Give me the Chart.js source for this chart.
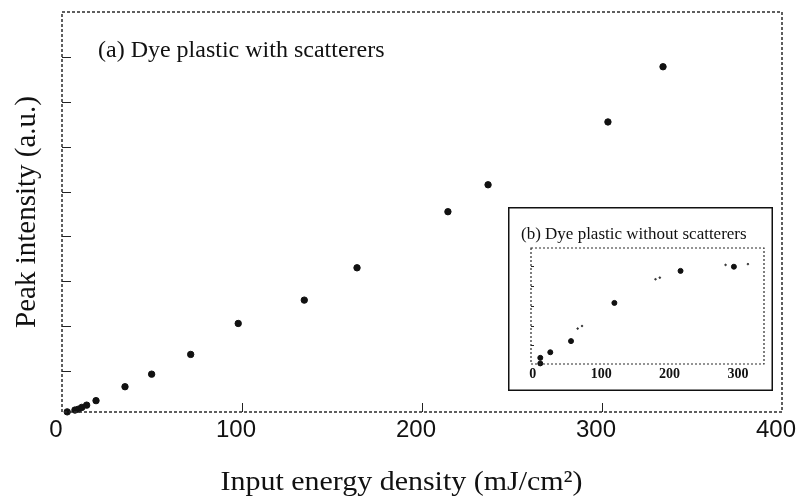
<!DOCTYPE html>
<html>
<head>
<meta charset="utf-8">
<script src="https://cdn.jsdelivr.net/npm/chart.js@4.4.0/dist/chart.umd.min.js"></script>
<style>
  html, body { margin: 0; padding: 0; background: #fff; }
  #wrap { position: relative; width: 797px; height: 499px; overflow: hidden; }
  #main { position: absolute; left: 0; top: 0; }
  #inset { position: absolute; left: 508px; top: 207px; background: #fff; }
</style>
</head>
<body>
<div id="wrap">
  <canvas id="main" width="797" height="499"></canvas>
  <canvas id="inset" width="265" height="184"></canvas>
</div>
<script>
// ---- Data ----
const mainX = [2.9, 7.2, 9.1, 11, 13.7, 18.9, 35, 49.8, 71.5, 97.9, 134.6, 163.9, 214.4, 236.7, 303.3, 333.9];
const mainY = [0.09, 0.13, 0.15, 0.19, 0.24, 0.34, 0.65, 0.93, 1.37, 2.06, 2.58, 3.30, 4.55, 5.15, 6.55, 7.78];
const mainXTicks = [0, 100, 200, 300, 400];
const mainYTicks = [1, 2, 3, 4, 5, 6, 7, 8];

const insetX = [11, 11, 25.6, 55.9, 119.3, 216, 294];
const insetY = [0.38, 0.10, 0.66, 1.22, 3.14, 4.75, 4.96];
const insetMinorX = [65.6, 72, 179.4, 185.7, 281.8, 314.5];
const insetMinorY = [1.85, 1.98, 4.33, 4.41, 5.05, 5.09];
const insetXTicks = [0, 100, 200, 300];
const insetYTicks = [1, 2, 3, 4, 5];

const mainTitleX = 'Input energy density (mJ/cm²)';
const mainTitleY = 'Peak intensity (a.u.)';
const mainNote = '(a) Dye plastic with scatterers';
const insetNote = '(b) Dye plastic without scatterers';

const SERIF = '"Liberation Serif", "Times New Roman", serif';
const SANS = '"Liberation Sans", Arial, sans-serif';

function pts(xs, ys) { return xs.map((x, i) => ({ x: x, y: ys[i] })); }

// Frame + inward ticks plugin
function framePlugin(opts) {
  return {
    id: 'frame_' + opts.id,
    afterDatasetsDraw(chart) {
      const { ctx, chartArea: a, scales } = chart;
      ctx.save();
      ctx.strokeStyle = '#2a2a2a';
      ctx.lineWidth = opts.frameWidth;
      ctx.setLineDash(opts.dash);
      ctx.strokeRect(a.left, a.top, a.right - a.left, a.bottom - a.top);
      ctx.setLineDash([]);
      ctx.lineWidth = 1;
      ctx.strokeStyle = '#222';
      ctx.beginPath();
      opts.yTicks.forEach(v => {
        const py = Math.round(scales.y.getPixelForValue(v)) + 0.5;
        ctx.moveTo(a.left, py); ctx.lineTo(a.left + opts.tickLen, py);
      });
      opts.xTicks.forEach(v => {
        const px = Math.round(scales.x.getPixelForValue(v)) + 0.5;
        if (px <= a.left + 1 || px >= a.right - 1) return;
        ctx.moveTo(px, a.bottom); ctx.lineTo(px, a.bottom - opts.tickLen);
      });
      ctx.stroke();
      if (opts.after) opts.after(chart);
      ctx.restore();
    }
  };
}

// ---- Main chart ----
new Chart(document.getElementById('main'), {
  type: 'scatter',
  data: {
    datasets: [{
      data: pts(mainX, mainY),
      backgroundColor: '#111',
      borderColor: '#111',
      pointRadius: 3.2,
      pointHoverRadius: 3.2,
      clip: false
    }]
  },
  options: {
    responsive: false,
    animation: false,
    devicePixelRatio: 1,
    layout: { padding: { top: 12, right: 15, left: 0, bottom: 0 } },
    plugins: { legend: { display: false }, tooltip: { enabled: false } },
    scales: {
      x: {
        type: 'linear', min: 0, max: 400,
        afterBuildTicks: s => { s.ticks = mainXTicks.map(v => ({ value: v })); },
        afterFit: s => { s.height = 87; s.paddingLeft = 0; s.paddingRight = 0; },
        grid: { display: false, drawTicks: false },
        border: { display: false },
        ticks: { color: '#111', font: { family: SANS, size: 24 }, padding: 4, labelOffset: -6, maxRotation: 0, autoSkip: false },
        title: { display: false }
      },
      y: {
        type: 'linear', min: 0.087, max: 9.0,
        afterBuildTicks: s => { s.ticks = mainYTicks.map(v => ({ value: v })); },
        afterFit: s => { s.width = 62; s.paddingTop = 0; s.paddingBottom = 0; },
        grid: { display: false, drawTicks: false },
        border: { display: false },
        ticks: { display: false },
        title: { display: true, text: mainTitleY, color: '#111', font: { family: SERIF, size: 29, lineHeight: 1 }, padding: { top: 13, bottom: 0 } }
      }
    }
  },
  plugins: [framePlugin({
    id: 'main', frameWidth: 1.5, dash: [3, 2], tickLen: 9,
    xTicks: mainXTicks, yTicks: mainYTicks,
    after: chart => {
      const ctx = chart.ctx;
      ctx.fillStyle = '#111';
      ctx.font = '24px ' + SERIF;
      ctx.textBaseline = 'alphabetic';
      ctx.textAlign = 'left';
      ctx.fillText(mainNote, 98, 57);
      // x-axis title
      ctx.save();
      ctx.font = '28px ' + SERIF;
      ctx.textAlign = 'center';
      ctx.translate(401.5, 490);
      ctx.scale(1.07, 1);
      ctx.fillText(mainTitleX, 0, 0);
      ctx.restore();
    }
  })]
});

// ---- Inset chart ----
new Chart(document.getElementById('inset'), {
  type: 'scatter',
  data: {
    datasets: [{
      data: pts(insetX, insetY),
      backgroundColor: '#111',
      borderColor: '#111',
      pointRadius: 2.5,
      pointHoverRadius: 2.5,
      clip: false
    }, {
      data: pts(insetMinorX, insetMinorY),
      backgroundColor: '#333',
      borderColor: '#333',
      pointRadius: 0.8,
      pointHoverRadius: 0.8
    }]
  },
  options: {
    responsive: false,
    animation: false,
    devicePixelRatio: 1,
    layout: { padding: { top: 41, right: 9, left: 0, bottom: 0 } },
    plugins: { legend: { display: false }, tooltip: { enabled: false } },
    scales: {
      x: {
        type: 'linear', min: -2.6, max: 338,
        afterBuildTicks: s => { s.ticks = insetXTicks.map(v => ({ value: v })); },
        afterFit: s => { s.height = 27; s.paddingLeft = 0; s.paddingRight = 0; },
        grid: { display: false, drawTicks: false },
        border: { display: false },
        ticks: { color: '#111', font: { family: SERIF, size: 14, weight: 'bold' }, padding: 2, maxRotation: 0, autoSkip: false }
      },
      y: {
        type: 'linear', min: 0.07, max: 5.9,
        afterBuildTicks: s => { s.ticks = insetYTicks.map(v => ({ value: v })); },
        afterFit: s => { s.width = 23; s.paddingTop = 0; s.paddingBottom = 0; },
        grid: { display: false, drawTicks: false },
        border: { display: false },
        ticks: { display: false }
      }
    }
  },
  plugins: [framePlugin({
    id: 'inset', frameWidth: 1.2, dash: [2, 2], tickLen: 3,
    xTicks: [], yTicks: insetYTicks,
    after: chart => {
      const ctx = chart.ctx;
      ctx.strokeStyle = '#111';
      ctx.lineWidth = 1.5;
      ctx.strokeRect(0.75, 0.75, chart.width - 1.5, chart.height - 1.5);
      ctx.fillStyle = '#111';
      ctx.font = '17px ' + SERIF;
      ctx.textBaseline = 'alphabetic';
      ctx.textAlign = 'left';
      ctx.fillText(insetNote, 13, 32);
    }
  })]
});
</script>
</body>
</html>
